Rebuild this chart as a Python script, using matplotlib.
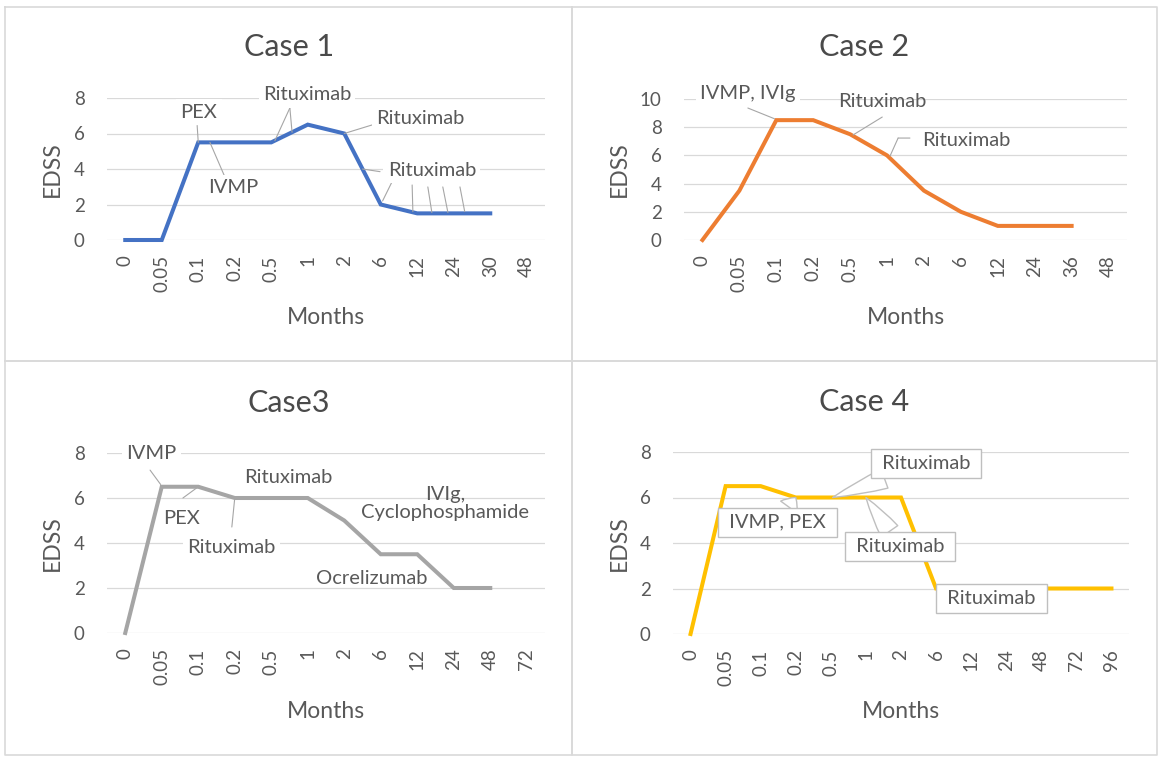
import numpy as np
from matplotlib import pyplot as plt
from matplotlib.lines import Line2D

plt.rcParams['font.family'] = ['Lato', 'DejaVu Sans']

# ---- data ----
case1_months = ['0', '0.05', '0.1', '0.2', '0.5', '1', '2', '6', '12', '24', '30', '48']
case1_edss = [0, 0, 5.5, 5.5, 5.5, 6.5, 6, 2, 1.5, 1.5, 1.5, np.nan]

case2_months = ['0', '0.05', '0.1', '0.2', '0.5', '1', '2', '6', '12', '24', '36', '48']
case2_edss = [0, 3.5, 8.5, 8.5, 7.5, 6, 3.5, 2, 1, 1, 1, np.nan]

case3_months = ['0', '0.05', '0.1', '0.2', '0.5', '1', '2', '6', '12', '24', '48', '72']
case3_edss = [0, 6.5, 6.5, 6, 6, 6, 5, 3.5, 3.5, 2, 2, np.nan]

case4_months = ['0', '0.05', '0.1', '0.2', '0.5', '1', '2', '6', '12', '24', '48', '72', '96']
case4_edss = [0, 6.5, 6.5, 6, 6, 6, 6, 2, 2, 2, 2, 2, 2]

titles = ['Case 1', 'Case 2', 'Case3', 'Case 4']
colors = ['#4472C4', '#ED7D31', '#A5A5A5', '#FFC000']

# treatment labels: (text, text position, leader segments [(from, to)], white background)
case1_notes = [
    ('PEX', (2.02, 7.21), [((1.97, 6.45), (2.0, 5.5))], True),
    ('IVMP', (2.95, 2.93), [((2.73, 3.55), (2.32, 5.5))], True),
    ('Rituximab', (4.98, 8.17), [((4.51, 7.44), (4.1, 5.6)), ((4.51, 7.44), (4.57, 6.07))], True),
    ('Rituximab', (8.08, 6.87), [((6.76, 6.48), (6.0, 6.0))], True),
    ('Rituximab', (8.4, 3.94), [((6.98, 3.85), (6.5, 4.0)), ((7.35, 3.45), (7.05, 2.2)),
                                ((7.86, 3.1), (7.88, 1.6)), ((8.29, 2.99), (8.4, 1.55)),
                                ((8.7, 2.99), (8.84, 1.55)), ((9.17, 2.99), (9.3, 1.6))], True),
]
case2_notes = [
    ('IVMP, IVIg', (1.23, 10.4), [((1.23, 9.36), (1.95, 8.6))], True),
    ('Rituximab', (4.87, 9.79), [((4.87, 8.72), (4.08, 7.45))], False),
    ('Rituximab', (7.14, 7.09), [((5.62, 7.23), (5.3, 7.23)), ((5.3, 7.23), (5.08, 5.95))], False),
]
case3_notes = [
    ('IVMP', (0.71, 7.96), [((0.68, 7.24), (0.97, 6.6))], True),
    ('PEX', (1.55, 5.07), [((1.58, 6.0), (2.0, 6.5))], True),
    ('Rituximab', (2.9, 3.82), [((2.92, 4.71), (3.0, 6.0))], True),
    ('Rituximab', (4.46, 6.89), [], True),
    ('IVIg,\nCyclophosphamide', (8.76, 5.76), [], False),
    ('Ocrelizumab', (6.76, 2.44), [], False),
]
# boxed callouts: (text, text position, point the callout points to)
case4_callouts = [
    ('Rituximab', (6.71, 7.49), (4.05, 6.0)),
    ('IVMP, PEX', (2.49, 4.92), (3.0, 6.0)),
    ('Rituximab', (5.97, 3.85), (5.0, 6.0)),
    ('Rituximab', (8.57, 1.56), None),
]

W, H = 1170, 764
TXT = '#595959'
GRID = '#d9d9d9'
LEAD = '#a6a6a6'

fig = plt.figure(figsize=(W / 100, H / 100), dpi=100)

# panel borders
for x0, x1 in [(5, 572), (572, 1157)]:
    for y0, y1 in [(7, 361), (361, 755)]:
        xs = np.array([x0, x1, x1, x0, x0]) / W
        ys = 1 - np.array([y0, y0, y1, y1, y0]) / H
        fig.add_artist(Line2D(xs, ys, color='#d9d9d9', lw=1.2, transform=fig.transFigure))

# pixel layout of each plot area, title, y label x, x label y
layouts = [
    dict(box=(107, 98, 545, 240), ymax=8, title=(289, 47.5), ylab=52, xlab=317),
    dict(box=(684, 99, 1127, 240), ymax=10, title=(864, 47.5), ylab=619, xlab=317),
    dict(box=(107, 453, 545, 633), ymax=8, title=(289, 403), ylab=52, xlab=712),
    dict(box=(673, 452, 1129, 634), ymax=8, title=(864, 402), ylab=619, xlab=712),
]
months_all = [case1_months, case2_months, case3_months, case4_months]
edss_all = [case1_edss, case2_edss, case3_edss, case4_edss]
notes_all = [case1_notes, case2_notes, case3_notes, None]

for i, lay in enumerate(layouts):
    x0, y0, x1, y1 = lay['box']
    ax = fig.add_axes([x0 / W, 1 - y1 / H, (x1 - x0) / W, (y1 - y0) / H])
    months = months_all[i]
    edss = edss_all[i]
    xs = np.arange(len(months))
    ax.plot(xs, edss, color=colors[i], lw=2.9, solid_joinstyle='miter', clip_on=False, zorder=3)

    ax.set_xlim(-0.5, len(months) - 0.5)
    ax.set_ylim(0, lay['ymax'])
    ax.set_yticks(np.arange(0, lay['ymax'] + 1, 2))
    ax.set_xticks(xs)
    ax.set_xticklabels(months, rotation=90)
    ax.tick_params(axis='x', length=0, pad=11, labelsize=13.5, labelcolor=TXT)
    ax.tick_params(axis='y', length=0, pad=16, labelsize=13.5, labelcolor=TXT)
    ax.yaxis.grid(True, color=GRID, lw=0.9)
    ax.set_axisbelow(True)
    for s in ax.spines.values():
        s.set_visible(False)

    ax.set_ylabel('EDSS', fontsize=16.5, color=TXT)
    ax.yaxis.set_label_coords((lay['ylab'] - x0) / (x1 - x0), 0.5)
    ax.yaxis.label.set_va('center')
    ax.set_xlabel('Months', fontsize=16.5, color=TXT)
    ax.xaxis.set_label_coords(0.5, (y1 - lay['xlab']) / (y1 - y0))
    ax.xaxis.label.set_va('center')

    fig.text(lay['title'][0] / W, 1 - lay['title'][1] / H, titles[i], fontsize=22,
             color='#4a4a4a', ha='center', va='center')

    if notes_all[i] is not None:
        for text, pos, leaders, filled in notes_all[i]:
            bb = dict(facecolor='white', edgecolor='none', pad=3) if filled else None
            ax.text(pos[0], pos[1], text, fontsize=14.5, color=TXT, ha='center', va='center',
                    linespacing=1.1, zorder=5, bbox=bb)
            for start, end in leaders:
                ax.annotate('', xy=end, xytext=start,
                            arrowprops=dict(arrowstyle='-', color=LEAD, lw=0.8,
                                            shrinkA=0, shrinkB=0), zorder=4)
    else:
        for text, pos, target in case4_callouts:
            box = dict(boxstyle='square,pad=0.3', facecolor='white', edgecolor='#bfbfbf', lw=1)
            if target is None:
                ax.text(pos[0], pos[1], ' ' + text + ' ', fontsize=14.5, color=TXT,
                        ha='center', va='center', zorder=5, bbox=box)
            else:
                ax.annotate(' ' + text + ' ', xy=target, xytext=pos, fontsize=14.5, color=TXT,
                            ha='center', va='center', zorder=5, bbox=box,
                            arrowprops=dict(arrowstyle='wedge,tail_width=1.0,shrink_factor=0.6',
                                            facecolor='white', edgecolor='#bfbfbf', lw=1,
                                            shrinkA=0, shrinkB=0))

fig.savefig('out.png', dpi=100, facecolor='white')
